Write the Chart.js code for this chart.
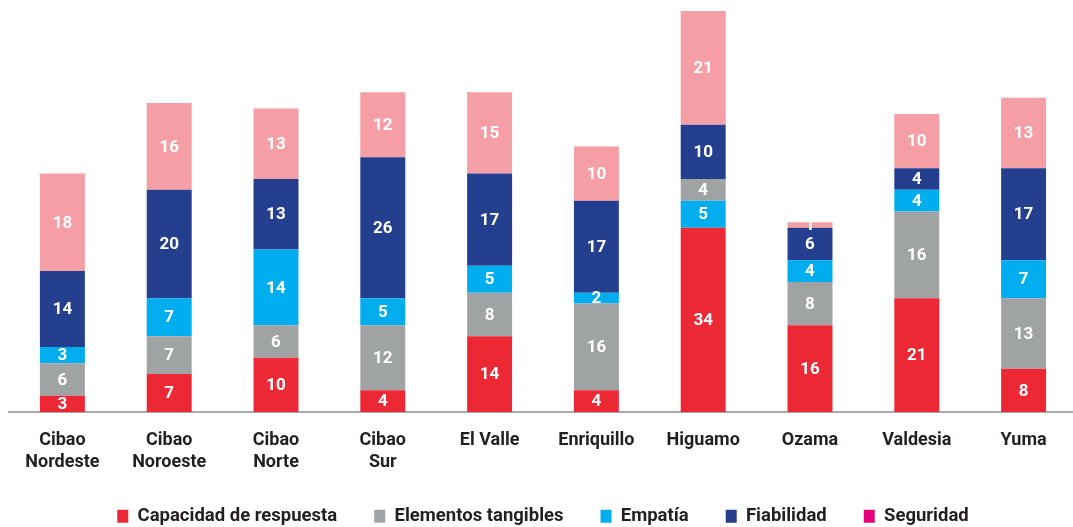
<!DOCTYPE html>
<html>
<head>
<meta charset="utf-8">
<script src="https://cdn.jsdelivr.net/npm/chart.js@4"></script>
<style>
  html, body { margin: 0; padding: 0; background: #fff; overflow: hidden; }
  #wrap { width: 1078px; height: 527px; }
</style>
</head>
<body>
<div id="wrap"><canvas id="chart"></canvas></div>
<script>
// regions
const regions = [
  ["Cibao", "Nordeste"], ["Cibao", "Noroeste"], ["Cibao", "Norte"], ["Cibao", "Sur"],
  "El Valle", "Enriquillo", "Higuamo", "Ozama", "Valdesia", "Yuma"
];

// values per dimension
const capacidad = [3, 7, 10, 4, 14, 4, 34, 16, 21, 8];
const tangibles = [6, 7, 6, 12, 8, 16, 0, 8, 16, 13];
const empatia = [3, 7, 14, 5, 5, 2, 5, 4, 4, 7];
// Higuamo has its gray block sitting above the cyan one
const tangiblesArriba = [0, 0, 0, 0, 0, 0, 4, 0, 0, 0];
const fiabilidad = [14, 20, 13, 26, 17, 17, 10, 6, 4, 17];
const seguridad = [18, 16, 13, 12, 15, 10, 21, 1, 10, 13];

const segmentLabels = {
  id: "segmentLabels",
  afterDatasetsDraw(chart) {
    const ctx = chart.ctx;
    ctx.save();
    ctx.font = "bold 17px Roboto";
    ctx.fillStyle = "#ffffff";
    ctx.textAlign = "center";
    ctx.textBaseline = "middle";
    chart.data.datasets.forEach((ds, i) => {
      chart.getDatasetMeta(i).data.forEach((bar, j) => {
        const v = ds.data[j];
        if (!v) return;
        const p = bar.getCenterPoint();
        ctx.fillText(v, p.x, p.y + 1);
      });
    });
    ctx.restore();
  }
};

const ctx = document.getElementById("chart").getContext("2d");

new Chart(ctx, {
  type: "bar",
  data: {
    labels: regions,
    datasets: [
      { label: "Capacidad de respuesta", data: capacidad, backgroundColor: "#ec2834" },
      { label: "Elementos tangibles", data: tangibles, backgroundColor: "#a0a3a4" },
      { label: "Empatía", data: empatia, backgroundColor: "#00aeef" },
      { label: "tangibles2", data: tangiblesArriba, backgroundColor: "#a0a3a4" },
      { label: "Fiabilidad", data: fiabilidad, backgroundColor: "#253f8f" },
      { label: "Seguridad", data: seguridad, backgroundColor: "#f69ea5", legendColor: "#e6007e" }
    ]
  },
  options: {
    responsive: true,
    maintainAspectRatio: false,
    animation: false,
    layout: { padding: { left: 9, right: 1, top: 11, bottom: 0 } },
    datasets: {
      bar: { categoryPercentage: 1, barPercentage: 0.421 }
    },
    scales: {
      x: {
        stacked: true,
        grid: { display: false },
        border: { display: true, color: "#a7a9ac", width: 2 },
        afterFit(scale) { scale.height = 58; },
        ticks: {
          color: "#231f20",
          padding: 10,
          maxRotation: 0,
          autoSkip: false,
          font: { family: "Roboto", size: 18, weight: "bold", lineHeight: 1.22 }
        }
      },
      y: {
        stacked: true,
        display: false,
        min: 0,
        max: 74
      }
    },
    plugins: {
      tooltip: { enabled: false },
      legend: {
        position: "bottom",
        maxHeight: 57,
        labels: {
          color: "#231f20",
          boxWidth: 11,
          boxHeight: 13,
          padding: 37,
          font: { family: "Roboto", size: 18.5, weight: "bold" },
          filter: (item) => item.text !== "tangibles2",
          generateLabels(chart) {
            const items = Chart.defaults.plugins.legend.labels.generateLabels(chart);
            items.forEach((it) => {
              const ds = chart.data.datasets[it.datasetIndex];
              if (ds.legendColor) it.fillStyle = ds.legendColor;
              it.lineWidth = 0;
              it.strokeStyle = "transparent";
            });
            return items;
          }
        }
      }
    }
  },
  plugins: [segmentLabels]
});
</script>
</body>
</html>
